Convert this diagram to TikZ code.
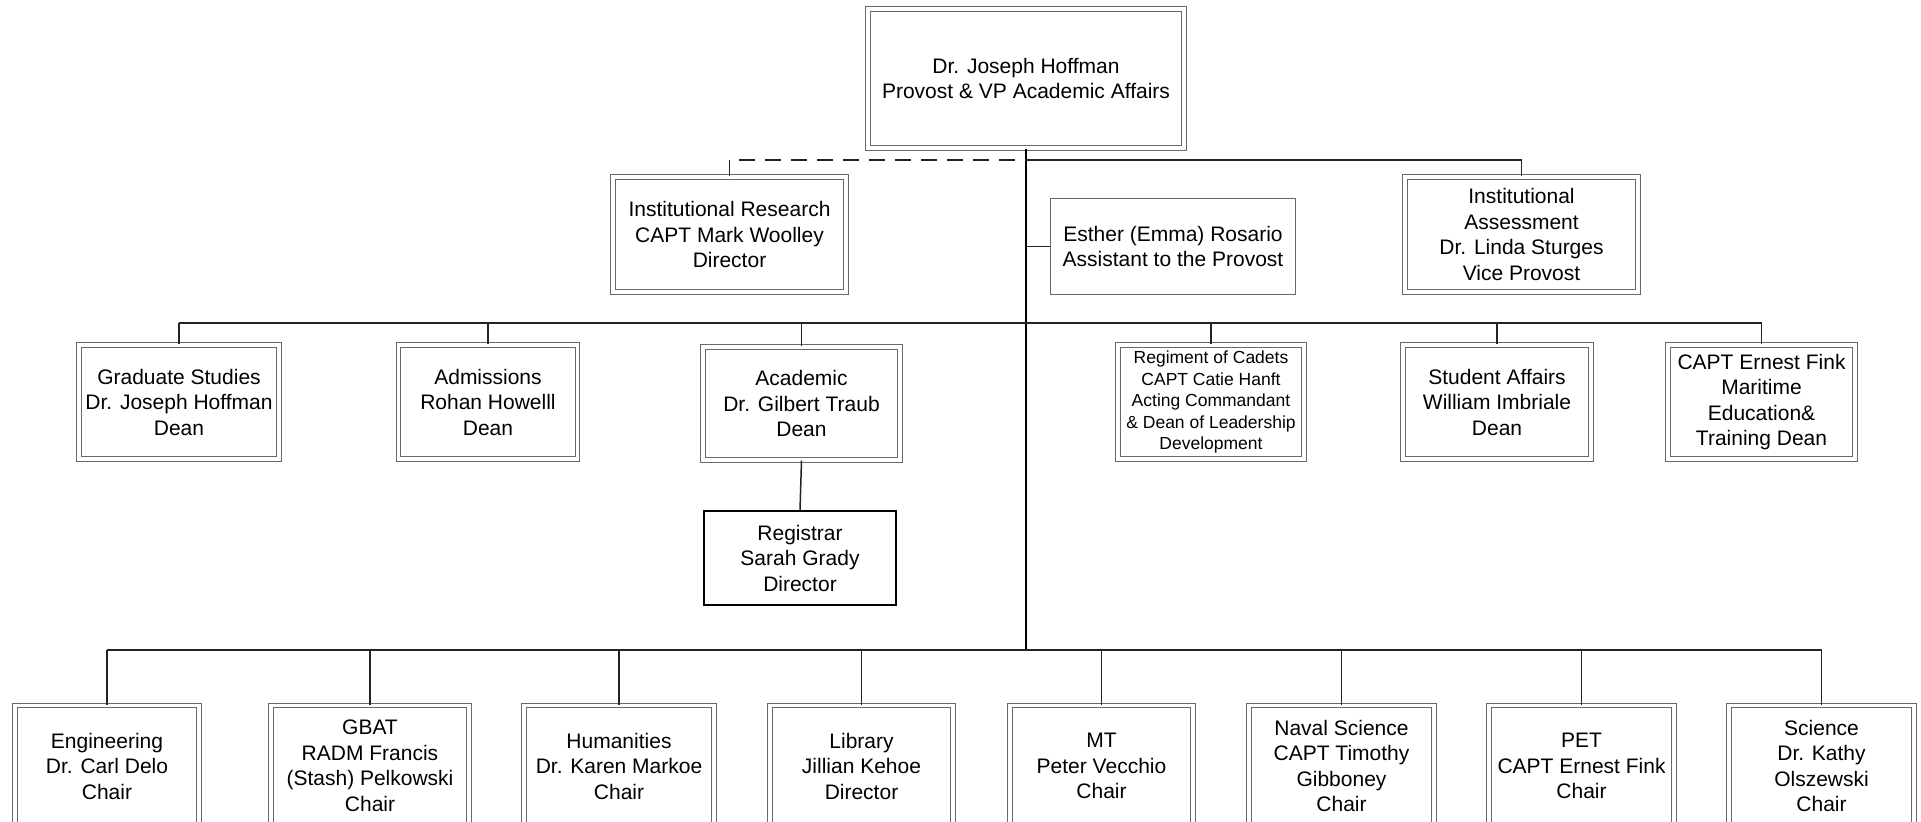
\documentclass[tikz,border=0pt]{standalone}
\usepackage{fontspec}
\setmainfont{Liberation Sans}
\usetikzlibrary{positioning}
\definecolor{framegray}{RGB}{105,105,105}
\definecolor{linkgray}{RGB}{35,35,35}

\begin{document}
\begin{tikzpicture}[x=0.5pt,y=-0.5pt,
  boxsize/.style 2 args={minimum width=#1*0.5pt,minimum height=#2*0.5pt},
  office/.style={draw=framegray,double,double distance=1.6pt,line width=0.6pt,inner sep=0pt,align=center,font=\fontsize{10.5}{12.75}\selectfont},
  plainbox/.style={draw=framegray,line width=0.7pt,inner sep=0pt,align=center,font=\fontsize{10.5}{12.75}\selectfont},
  regbox/.style={draw=black,line width=1pt,inner sep=0pt,align=center,font=\fontsize{10.5}{12.75}\selectfont},
  small/.style={font=\fontsize{8.75}{10.75}\selectfont},
  link/.style={draw=linkgray,line width=0.75pt},
  trunk/.style={draw=black,line width=1pt},
  dotlink/.style={draw=linkgray,line width=0.75pt,dash pattern=on 8pt off 5pt}]
\useasboundingbox (0,0) rectangle (1921,821);
\clip (0,0) rectangle (1921,821);
% provost
\node[office,boxsize={316}{139}] (top) at (1026,78.5) {Dr. Joseph Hoffman\\Provost \& VP Academic Affairs};
% first row
\node[office,boxsize={233}{115}] (ir) at (729.5,234.5) {Institutional Research\\CAPT Mark Woolley\\Director};
\node[plainbox,boxsize={245}{96}] (esther) at (1173,246.5) {Esther (Emma) Rosario\\Assistant to the Provost};
\node[office,boxsize={233}{115}] (ia) at (1521.5,234.5) {Institutional\\Assessment\\Dr. Linda Sturges\\Vice Provost};
% deans
\node[office,boxsize={200}{114}] (grad) at (179,402) {Graduate Studies\\Dr. Joseph Hoffman\\Dean};
\node[office,boxsize={179}{114}] (adm) at (488,402) {Admissions\\Rohan Howelll\\Dean};
\node[office,boxsize={197}{113}] (acad) at (801.5,403.5) {Academic\\Dr. Gilbert Traub\\Dean};
\node[regbox,boxsize={192}{94}] (reg) at (800,558) {Registrar\\Sarah Grady\\Director};
\node[office,small,boxsize={186}{114}] (cadets) at (1211,402) {Regiment of Cadets\\CAPT Catie Hanft\\Acting Commandant\\\& Dean of Leadership\\Development};
\node[office,boxsize={188}{114}] (sa) at (1497,402) {Student Affairs\\William Imbriale\\Dean};
\node[office,boxsize={187}{114}] (mar) at (1761.5,402) {CAPT Ernest Fink\\Maritime\\Education\&\\Training Dean};
% chairs
\node[office,boxsize={184}{121}] (eng) at (107,766) {Engineering\\Dr. Carl Delo\\Chair};
\node[office,boxsize={198}{121}] (gbat) at (370,766) {GBAT\\RADM Francis\\(Stash) Pelkowski\\Chair};
\node[office,boxsize={190}{121}] (hum) at (619,766) {Humanities\\Dr. Karen Markoe\\Chair};
\node[office,boxsize={183}{121}] (lib) at (861.5,766) {Library\\Jillian Kehoe\\Director};
\node[office,boxsize={183}{121}] (mt) at (1101.5,766) {MT\\Peter Vecchio\\Chair};
\node[office,boxsize={185}{121}] (naval) at (1341.5,766) {Naval Science\\CAPT Timothy\\Gibboney\\Chair};
\node[office,boxsize={185}{121}] (pet) at (1581.5,766) {PET\\CAPT Ernest Fink\\Chair};
\node[office,boxsize={185}{121}] (sci) at (1821.5,766) {Science\\Dr. Kathy\\Olszewski\\Chair};
% lines
\coordinate (bus1) at (1026,160);
\coordinate (bus2) at (1026,323);
\coordinate (bus3) at (1026,650);
\draw[trunk] (top.south) -- (bus3);
\draw[dotlink] (ir.north) |- (bus1);
\draw[link] (bus1) -| (ia.north);
\draw[link] (esther.west -| bus1) -- (esther.west);
\draw[link] (grad.north |- bus2) -- (mar.north |- bus2);
\foreach \n in {grad,adm,acad,cadets,sa,mar}
\draw[link] (\n.north |- bus2) -- (\n.north);
\draw[link] (acad.south) -- (reg.north);
\draw[link] (eng.north |- bus3) -- (sci.north |- bus3);
\foreach \n in {eng,gbat,hum,lib,mt,naval,pet,sci}
\draw[link] (\n.north |- bus3) -- (\n.north);
\end{tikzpicture}
\end{document}
